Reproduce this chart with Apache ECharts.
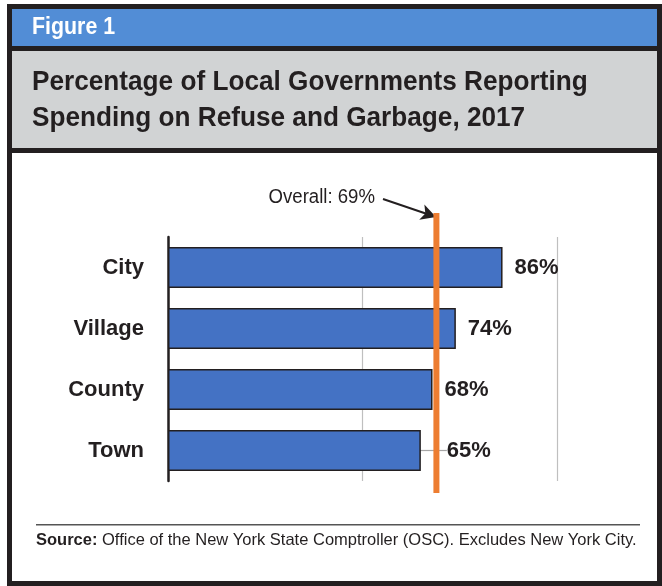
<!DOCTYPE html>
<html>
<head>
<meta charset="utf-8">
<script src="https://cdn.jsdelivr.net/npm/echarts@6/dist/echarts.min.js"></script>
<style>
html,body{margin:0;padding:0;background:#fff;}
#main{width:662px;height:586px;}
</style>
</head>
<body>
<div id="main"></div>
<script>
// data
var categories = ['City', 'Village', 'County', 'Town'];
var shares = [86, 74, 68, 65];
var overall = 69;
var axisTicks = [0, 50, 100];

var sans = "'Liberation Sans', Arial, Helvetica, sans-serif";
var ink = '#231f20';

var myChart = echarts.init(document.getElementById('main'));

var barData = shares.map(function (v, i) {
    var item = { value: v };
    if (categories[i] === 'Town') {
        item.labelLine = { show: true, lineStyle: { color: '#a6a6a6', width: 1.2 } };
    }
    return item;
});

var option = {
    animation: false,
    backgroundColor: '#fff',
    grid: [
        { left: 168, right: 105, top: 237, bottom: 105 },
        { left: 168, right: 105, top: 213, bottom: 93 }   // taller band for the overall line
    ],
    xAxis: [
        {
            type: 'value', gridIndex: 0,
            min: axisTicks[0], max: axisTicks[axisTicks.length - 1], interval: 50,
            axisLine: { show: false },
            axisTick: { show: false },
            axisLabel: { show: false },
            splitLine: { show: true, lineStyle: { color: '#bfbfbf', width: 1.2 } }
        },
        {
            type: 'value', gridIndex: 1,
            min: axisTicks[0], max: axisTicks[axisTicks.length - 1],
            show: false
        }
    ],
    yAxis: [
        {
            type: 'category', gridIndex: 0, inverse: true,
            data: categories,
            axisLine: { show: true, lineStyle: { color: ink, width: 2.5 } },
            axisTick: { show: false },
            axisLabel: {
                margin: 24,
                color: ink,
                fontFamily: sans,
                fontWeight: 'bold',
                fontSize: 22
            }
        },
        { type: 'value', gridIndex: 1, min: 0, max: 1, show: false }
    ],
    series: [
        {
            type: 'bar',
            xAxisIndex: 0, yAxisIndex: 0,
            barWidth: 41,
            data: barData,
            itemStyle: { color: '#4472c4', borderColor: ink, borderWidth: 1.5 },
            label: {
                show: true,
                position: 'right',
                distance: 12,
                formatter: '{c}%',
                color: ink,
                fontFamily: sans,
                fontWeight: 'bold',
                fontSize: 22
            },
            labelLine: { show: false },
            labelLayout: function (params) {
                if (categories[params.dataIndex] === 'Town') {
                    return { dx: 14 };
                }
            }
        },
        {
            type: 'line',
            xAxisIndex: 1, yAxisIndex: 1,
            data: [[overall, 0], [overall, 1]],
            symbol: 'none',
            lineStyle: { color: '#ed7d31', width: 6, cap: 'butt' },
            z: 5,
            markLine: {
                silent: true,
                symbol: ['none', 'arrow'],
                symbolSize: [12, 15],
                label: { show: false },
                lineStyle: { color: ink, width: 2, type: 'solid' },
                data: [[{ x: 383, y: 199 }, { x: 436, y: 217 }]]
            }
        }
    ],
    graphic: [
        // frame
        { type: 'rect', shape: { x: 9.5, y: 6.5, width: 650, height: 577 },
          style: { fill: null, stroke: ink, lineWidth: 5 }, z: 100 },
        { type: 'rect', shape: { x: 12, y: 9, width: 645, height: 37 }, style: { fill: '#528dd6' } },
        { type: 'rect', shape: { x: 12, y: 46, width: 645, height: 5 }, style: { fill: ink } },
        { type: 'rect', shape: { x: 12, y: 51, width: 645, height: 97 }, style: { fill: '#d1d3d4' } },
        { type: 'rect', shape: { x: 12, y: 148, width: 645, height: 5 }, style: { fill: ink } },
        {
            type: 'text', x: 32, y: 27, scaleX: 0.89,
            style: { text: 'Figure 1', fill: '#fff', font: 'bold 24px ' + sans, verticalAlign: 'middle' }
        },
        {
            type: 'text', x: 32, y: 64, scaleX: 0.935,
            style: {
                text: 'Percentage of Local Governments Reporting\nSpending on Refuse and Garbage, 2017',
                fill: ink, font: 'bold 28px ' + sans, lineHeight: 36, verticalAlign: 'top'
            }
        },
        {
            type: 'text', x: 375, y: 197, scaleX: 0.93,
            style: {
                text: 'Overall: ' + overall + '%',
                fill: ink, font: '20px ' + sans,
                align: 'right', verticalAlign: 'middle'
            }
        },
        // source rule and note
        { type: 'rect', shape: { x: 36, y: 524, width: 604, height: 1.5 }, style: { fill: '#555' } },
        {
            type: 'text', x: 36, y: 540,
            style: {
                text: '{b|Source:} Office of the New York State Comptroller (OSC). Excludes New York City.',
                fill: ink, font: '16.5px ' + sans, verticalAlign: 'middle',
                rich: { b: { fontWeight: 'bold', fontFamily: sans, fontSize: 16.5, fill: ink } }
            }
        }
    ]
};

myChart.setOption(option);
</script>
</body>
</html>
